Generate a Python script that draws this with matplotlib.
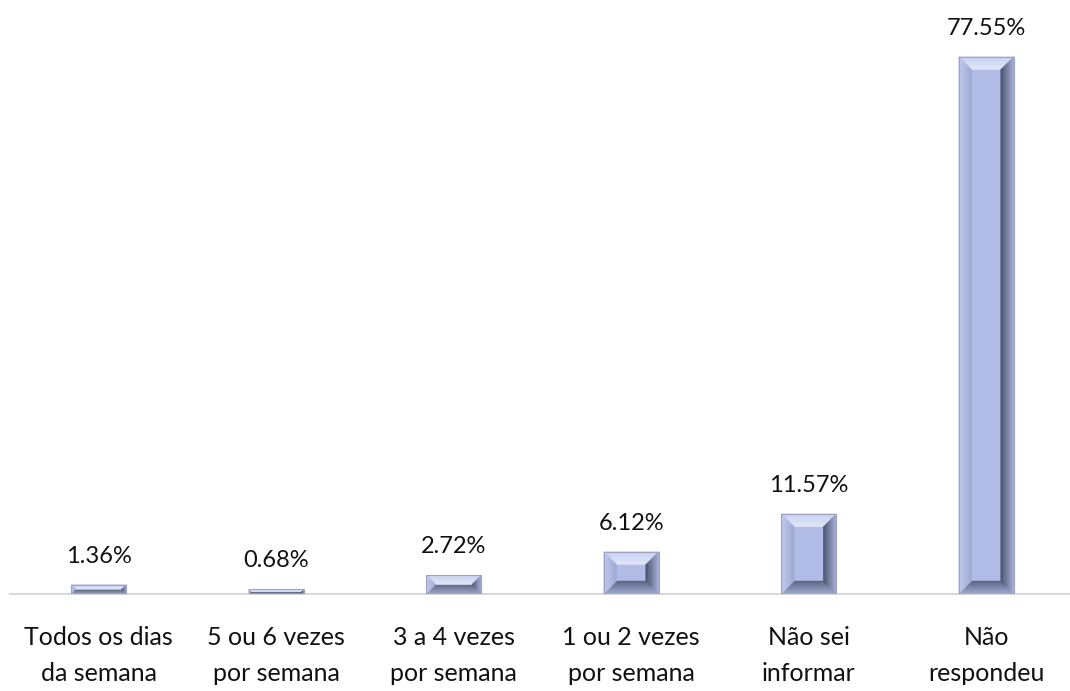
import matplotlib.pyplot as plt
import numpy as np
from matplotlib.patches import Polygon
from matplotlib.colors import to_rgb

categorias = ['Todos os dias\nda semana', '5 ou 6 vezes\npor semana', '3 a 4 vezes\npor semana',
              '1 ou 2 vezes\npor semana', 'Não sei\ninformar', 'Não\nrespondeu']
valores = [1.36, 0.68, 2.72, 6.12, 11.57, 77.55]
rotulos = ['1.36%', '0.68%', '2.72%', '6.12%', '11.57%', '77.55%']

plt.rcParams['font.family'] = ['Lato', 'DejaVu Sans']

W, H = 10.70, 6.91
fig = plt.figure(figsize=(W, H), dpi=100)
ax = fig.add_axes([10 / 1070, (691 - 594) / 691, 1065 / 1070, 589 / 691])

ymax = 85.0
ax.set_xlim(-0.5, len(valores) - 0.5)
ax.set_ylim(0, ymax)

# conversão pixel -> dados para o chanfro
px_x = (len(valores)) / 1065.0
px_y = ymax / 589.0

largura = 55 * px_x
chanfro_px = 13
face = '#B0BBE6'


def mix(c1, c2, t):
    a = np.array(to_rgb(c1))
    b = np.array(to_rgb(c2))
    return tuple(a + (b - a) * t)


# cores dos lados (borda externa -> borda interna)
lados = {
    'topo': ('#CBD3F2', '#E2E7F9'),
    'esq': ('#C3CCEF', '#9EA9D4'),
    'dir': ('#A9B3DC', '#4A5069'),
    'base': ('#A2ACD4', '#5A627E'),
}


def barra_chanfrada(ax, xc, h):
    x0, x1 = xc - largura / 2, xc + largura / 2
    if h <= 0:
        return
    b_px = min(chanfro_px, h / px_y / 2.0, 55 / 2.0)
    ax.add_patch(Polygon([(x0, 0), (x1, 0), (x1, h), (x0, h)], closed=True,
                         facecolor=face, edgecolor='none'))
    n = 10
    for k in range(n):
        t0, t1 = k / n, (k + 1) / n
        tm = (k + 0.5) / n
        dx0, dx1 = t0 * b_px * px_x, t1 * b_px * px_x
        dy0, dy1 = t0 * b_px * px_y, t1 * b_px * px_y
        o = (x0 + dx0, 0 + dy0, x1 - dx0, h - dy0)
        i = (x0 + dx1, 0 + dy1, x1 - dx1, h - dy1)
        polys = {
            'topo': [(o[0], o[3]), (o[2], o[3]), (i[2], i[3]), (i[0], i[3])],
            'base': [(o[0], o[1]), (o[2], o[1]), (i[2], i[1]), (i[0], i[1])],
            'esq': [(o[0], o[1]), (o[0], o[3]), (i[0], i[3]), (i[0], i[1])],
            'dir': [(o[2], o[1]), (o[2], o[3]), (i[2], i[3]), (i[2], i[1])],
        }
        for lado in ['base', 'topo', 'esq', 'dir']:
            c = mix(lados[lado][0], lados[lado][1], tm)
            ax.add_patch(Polygon(polys[lado], closed=True, facecolor=c,
                                 edgecolor=c, linewidth=0.3))
    ax.add_patch(Polygon([(x0, 0), (x1, 0), (x1, h), (x0, h)], closed=True,
                         facecolor='none', edgecolor='#9AA3C6', linewidth=0.8))


x = np.arange(len(valores))
for xi, v, r in zip(x, valores, rotulos):
    barra_chanfrada(ax, xi, v)
    ax.annotate(r, (xi, v), xytext=(0, 13), textcoords='offset points',
                ha='center', va='bottom', fontsize=17, color='#111111')

ax.set_xticks(x)
ax.set_xticklabels(categorias, fontsize=18, color='#111111', linespacing=1.7)
ax.tick_params(axis='x', length=0, pad=23)
ax.set_yticks([])
for s in ['top', 'right', 'left']:
    ax.spines[s].set_visible(False)
ax.spines['bottom'].set_color('#D9D9D9')
ax.spines['bottom'].set_linewidth(1.5)
ax.spines['bottom'].set_zorder(0)

fig.savefig('out.png', dpi=100)
